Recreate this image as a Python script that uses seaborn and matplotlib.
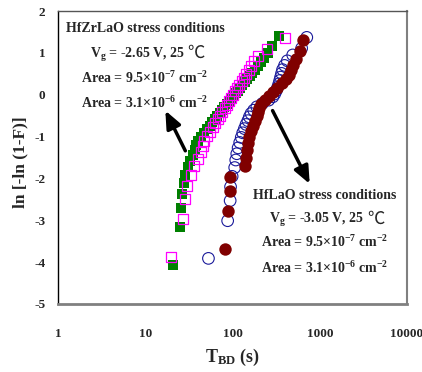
import matplotlib
matplotlib.use("Agg")
import matplotlib.pyplot as plt
import seaborn as sns
from matplotlib.ticker import FixedLocator, FixedFormatter, NullLocator

# ---------------- data ----------------
# HfZrLaO, area 9.5e-7 cm^-2 (filled green squares)
zr_small_t = [20.8, 24.8, 25.6, 26.4, 27.6, 28.8, 31.0, 33.0, 35.5, 36.8,
              38.0, 40.0, 43.7, 47.3, 51.2, 54.9, 58.9, 63.2, 67.3, 71.6,
              76.2, 80.9, 86.1, 91.6, 96.6, 103, 109, 116, 123, 130,
              139, 148, 158, 169, 182, 196, 213, 231, 254, 286, 339]
zr_small_y = [-4.07, -3.17, -2.70, -2.37, -2.12, -1.91, -1.73, -1.58, -1.44, -1.32,
              -1.21, -1.10, -1.00, -0.91, -0.82, -0.74, -0.66, -0.58, -0.51, -0.44,
              -0.37, -0.30, -0.23, -0.16, -0.10, -0.03, 0.03, 0.10, 0.17, 0.23,
              0.30, 0.37, 0.44, 0.52, 0.60, 0.68, 0.78, 0.88, 1.00, 1.16, 1.41]

# HfZrLaO, area 3.1e-6 cm^-2 (open magenta squares)
zr_large_t = [19.9, 27.0, 28.8, 30.1, 33.5, 35.9, 40.0, 44.0, 45.5, 47.5,
              51.3, 55.3, 59.7, 63.5, 68.1, 71.9, 76.6, 81.5, 86.1, 91.0,
              96.2, 102, 107, 114, 120, 127, 134, 143, 153, 164,
              177, 195, 251, 399]
zr_large_y = [-3.88, -2.98, -2.50, -2.17, -1.92, -1.71, -1.53, -1.37, -1.23, -1.10,
              -0.99, -0.88, -0.77, -0.68, -0.58, -0.50, -0.41, -0.32, -0.24, -0.16,
              -0.08, 0.00, 0.08, 0.16, 0.24, 0.32, 0.40, 0.49, 0.59, 0.69,
              0.80, 0.93, 1.10, 1.36]

# HfLaO, area 9.5e-7 cm^-2 (open navy circles)
la_small_t = [53, 88, 94, 95, 99, 106, 109, 112, 116, 121,
              126, 131, 137, 143, 150, 156, 163, 175, 190, 220,
              260, 290, 305, 318, 330, 340, 348, 356, 365, 375,
              395, 425, 490, 620, 710]
la_small_y = [-3.91, -3.01, -2.53, -2.20, -1.95, -1.74, -1.56, -1.41, -1.27, -1.14,
              -1.02, -0.91, -0.81, -0.71, -0.62, -0.53, -0.45, -0.37, -0.29, -0.21,
              -0.13, -0.05, 0.02, 0.10, 0.18, 0.26, 0.34, 0.42, 0.51, 0.60,
              0.70, 0.81, 0.95, 1.11, 1.37]

# HfLaO, area 3.1e-6 cm^-2 (filled dark red circles)
la_large_t = [81, 88, 93, 93, 140, 144, 147, 151, 156, 162,
              170, 180, 189, 195, 202, 210, 235, 262, 290, 325,
              365, 405, 440, 470, 500, 540, 590, 645]
la_large_y = [-3.69, -2.79, -2.30, -1.97, -1.71, -1.50, -1.31, -1.15, -1.01, -0.87,
              -0.75, -0.63, -0.52, -0.42, -0.32, -0.22, -0.12, -0.02, 0.07, 0.17,
              0.27, 0.37, 0.47, 0.59, 0.71, 0.86, 1.04, 1.31]

x_ticks = [1, 10, 100, 1000, 10000]
x_tick_labels = ["1", "10", "100", "1000", "10000"]
y_ticks = [-5, -4, -3, -2, -1, 0, 1, 2]
y_tick_labels = ["-5", "-4", "-3", "-2", "-1", "0", "1", "2"]

zr_head = "HfZrLaO stress conditions"
zr_vg = "V$_{g}$ = -2.65 V, 25"
zr_area = ["Area = 9.5\u00d710$^{-7}$ cm$^{-2}$", "Area = 3.1\u00d710$^{-6}$ cm$^{-2}$"]
la_head = "HfLaO stress conditions"
la_vg = "V$_{g}$ = -3.05 V, 25"
la_area = ["Area = 9.5\u00d710$^{-7}$ cm$^{-2}$", "Area = 3.1\u00d710$^{-6}$ cm$^{-2}$"]
celsius = "\u2103"

# ---------------- style ----------------
sns.set_style("white")
plt.rcParams['font.family'] = ['Liberation Serif', 'DejaVu Serif', 'Noto Sans CJK SC']
plt.rcParams['font.weight'] = 'bold'
plt.rcParams['mathtext.fontset'] = 'custom'
plt.rcParams['mathtext.rm'] = 'Liberation Serif:bold'
plt.rcParams['mathtext.it'] = 'Liberation Serif:bold'
plt.rcParams['mathtext.bf'] = 'Liberation Serif:bold'

fig = plt.figure(figsize=(4.22, 3.72), dpi=100)
ax = fig.add_axes([58 / 422, 1 - 304 / 372, 349 / 422, 293 / 372])

sns.scatterplot(x=la_small_t, y=la_small_y, ax=ax, marker='o', s=70,
                facecolors='none', edgecolor='#1a1a9a', linewidth=0.8, zorder=3)
sns.scatterplot(x=la_large_t, y=la_large_y, ax=ax, marker='o', s=80,
                color='#800000', edgecolor='#800000', linewidth=0, zorder=4)
sns.scatterplot(x=zr_small_t, y=zr_small_y, ax=ax, marker='s', s=50,
                color='#008000', edgecolor='#008000', linewidth=0, zorder=3)
sns.scatterplot(x=zr_large_t, y=zr_large_y, ax=ax, marker='s', s=52,
                facecolors='none', edgecolor='#ff00ff', linewidth=0.9, zorder=4)

ax.set_xscale('log')
ax.set_xlim(1, 10000)
ax.set_ylim(-5, 2)
ax.xaxis.set_major_locator(FixedLocator(x_ticks))
ax.xaxis.set_major_formatter(FixedFormatter(x_tick_labels))
ax.xaxis.set_minor_locator(NullLocator())
ax.yaxis.set_major_locator(FixedLocator(y_ticks))
ax.yaxis.set_major_formatter(FixedFormatter(y_tick_labels))
ax.tick_params(axis='x', length=0, pad=17, labelsize=9.5)
ax.tick_params(axis='y', length=0, pad=9, labelsize=9.5)
for lab in ax.get_xticklabels() + ax.get_yticklabels():
    lab.set_fontweight('bold')

ax.spines['left'].set_color('black')
ax.spines['left'].set_linewidth(1.0)
ax.spines['bottom'].set_color('#808080')
ax.spines['bottom'].set_linewidth(2.0)
ax.spines['right'].set_color('#808080')
ax.spines['right'].set_linewidth(1.5)
ax.spines['top'].set_color('#555555')
ax.spines['top'].set_linewidth(1.0)

ax.set_xlabel("T$_{BD}$ (s)", fontsize=13, fontweight='bold')
ax.xaxis.set_label_coords(0.5, -0.181)
ax.xaxis.label.set_va('center')
ax.set_ylabel("ln [-ln (1-F)]", fontsize=12.5, fontweight='bold')
ax.yaxis.set_label_coords(-0.108, 0.485)
ax.yaxis.label.set_va('center')

FS = 10


def text_block(xc, ys, head, vg, areas):
    ax.text(xc, ys[0], head, transform=ax.transAxes, ha='center',
            va='baseline', fontsize=FS, fontweight='bold')
    t_vg = ax.text(xc - 0.022, ys[1], vg, transform=ax.transAxes, ha='center',
                   va='baseline', fontsize=FS, fontweight='bold')
    ax.annotate(celsius, xy=(1, ys[1]), xycoords=(t_vg, 'axes fraction'),
                xytext=(2, 0), textcoords='offset points', ha='left',
                va='baseline', fontsize=12.5, fontweight='normal',
                family=['Noto Sans CJK SC', 'DejaVu Sans'])
    for txt, yy in zip(areas, ys[2:]):
        ax.text(xc, yy, txt, transform=ax.transAxes, ha='center',
                va='baseline', fontsize=FS, fontweight='bold')


text_block(0.249, [0.9273, 0.8406, 0.7532, 0.6679], zr_head, zr_vg, zr_area)
text_block(0.763, [0.3573, 0.2754, 0.1956, 0.1048], la_head, la_vg, la_area)

arrow = dict(arrowstyle='-|>,head_length=0.7,head_width=0.3', lw=2.5,
             color='black', mutation_scale=15, shrinkA=0, shrinkB=0)
ax.annotate('', xy=(17.0, -0.38), xytext=(28.8, -1.34), arrowprops=arrow, zorder=5)
ax.annotate('', xy=(767, -2.13), xytext=(288, -0.38), arrowprops=arrow, zorder=5)

fig.savefig("out.png", dpi=100)
